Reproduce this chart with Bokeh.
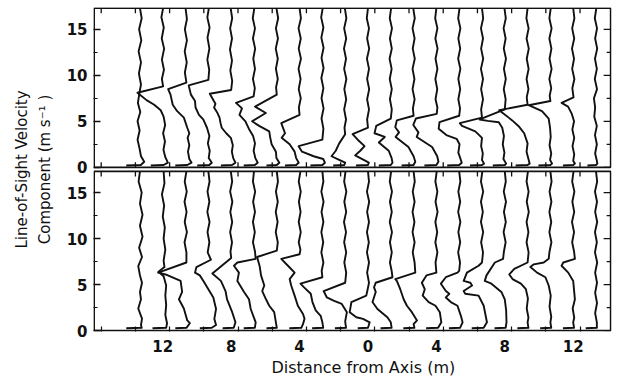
from bokeh.plotting import figure
from bokeh.models import Range1d, FixedTicker, LinearAxis, Title
from bokeh.embed import file_html
from bokeh.resources import INLINE

# ---------------- data ----------------
trace_step_m = 4.0 / 3.0                 # traces every 4/3 m
trace_index = list(range(-10, 11))       # trace k sits at k * 4/3 m
v_max = 17.3                             # top of each panel (m/s)
y_major = [0, 5, 10, 15]
y_minor = [2.5, 7.5, 12.5]
x_tick_values = [-12, -8, -4, 0, 4, 8, 12]
x_tick_labels = ["12", "8", "4", "0", "4", "8", "12"]
x_small_ticks = [-15.6, -13.6, -11.6, -9.6, -7.6, -5.6, -3.6, -1.6, 0.4, 2.4, 4.4, 6.4, 8.4, 10.4, 12.4]

# each trace: [velocity (m/s), horizontal displacement (m) from its trace position]
top_traces = [
    [[17.3,0.00],[16.2,0.10],[15.0,-0.05],[13.8,0.08],[12.6,-0.08],[11.4,0.06],[10.2,-0.06],[9.0,0.06],[8.1,-0.03],[7.0,-0.12],[6.0,0.02],[5.0,-0.14],[4.0,-0.02],[3.0,-0.14],[2.0,-0.02],[1.2,0.06],[0.6,0.25],[0.25,0.05],[0.2,-0.8]],
    [[17.3,0.02],[16.3,-0.08],[15.2,0.06],[14.0,-0.06],[12.9,0.08],[11.7,-0.05],[10.6,0.07],[9.6,-0.05],[8.8,0.02],[8.1,-1.48],[7.3,-0.95],[6.8,-0.5],[6.2,-0.12],[5.5,0.05],[4.6,0.14],[3.7,0.02],[2.8,0.13],[1.9,0.04],[1.1,0.15],[0.5,0.3],[0.25,0.05],[0.2,-0.7]],
    [[17.3,0.0],[16.1,0.08],[15.0,-0.04],[13.8,0.08],[12.6,-0.05],[11.4,0.07],[10.3,-0.04],[9.2,0.05],[8.5,-1.02],[7.9,-0.88],[6.8,-0.75],[6.1,-0.49],[5.4,-0.1],[4.3,0.1],[3.7,0.22],[3.2,0.12],[2.4,0.22],[1.7,0.14],[0.9,0.22],[0.5,0.35],[0.25,0.1],[0.2,-0.6]],
    [[17.3,0.03],[16.3,-0.06],[15.2,0.07],[14.1,-0.05],[12.9,0.06],[11.7,-0.06],[10.6,0.05],[9.5,0.0],[8.9,-1.15],[7.9,-1.02],[7.2,-0.78],[6.5,-0.75],[5.7,-0.55],[5.2,-0.3],[4.3,-0.08],[3.4,0.06],[2.6,-0.03],[1.8,0.08],[1.0,0.02],[0.5,0.2],[0.25,0.05],[0.2,-0.65]],
    [[17.3,-0.03],[16.2,0.06],[15.1,-0.06],[14.0,0.05],[12.8,-0.07],[11.6,0.05],[10.5,-0.05],[9.4,0.06],[8.4,0.0],[8.0,-1.25],[7.4,-1.07],[6.9,-0.92],[6.5,-1.0],[5.9,-0.8],[5.4,-0.68],[4.8,-0.62],[4.3,-0.55],[3.7,-0.29],[3.2,-0.02],[2.4,0.1],[1.7,0.04],[1.0,0.12],[0.5,0.25],[0.25,0.05],[0.2,-0.6]],
    [[17.3,0.02],[16.2,-0.07],[15.1,0.06],[14.0,-0.06],[12.9,0.07],[11.8,-0.04],[10.7,0.06],[9.6,-0.06],[8.6,0.05],[7.7,-0.02],[7.0,-1.05],[6.4,-0.7],[5.7,-0.85],[5.0,-0.5],[4.2,-0.3],[3.4,-0.05],[2.6,0.06],[1.8,-0.02],[1.0,0.08],[0.5,0.22],[0.25,0.05],[0.2,-0.6]],
    [[17.3,-0.02],[16.2,0.08],[15.1,-0.05],[14.0,0.07],[12.9,-0.06],[11.8,0.06],[10.7,-0.05],[9.6,0.06],[8.7,-0.04],[7.9,0.0],[6.6,-1.27],[5.9,-0.64],[5.0,-1.44],[4.5,-1.03],[3.9,-0.44],[3.2,-0.38],[2.5,-0.3],[1.7,-0.05],[1.0,-0.02],[0.5,0.15],[0.25,0.0],[0.2,-0.6]],
    [[17.3,0.0],[16.2,0.08],[15.1,-0.06],[14.0,0.07],[12.9,-0.05],[11.8,0.08],[10.7,-0.06],[9.6,0.06],[8.5,-0.05],[7.5,0.07],[6.5,-0.04],[5.7,0.0],[4.8,-1.07],[4.2,-0.95],[3.7,-0.85],[3.2,-1.05],[2.5,-0.58],[1.7,-0.29],[1.0,-0.2],[0.5,-0.05],[0.25,-0.2],[0.2,-0.85]],
    [[17.3,0.02],[16.3,-0.07],[15.2,0.06],[14.1,-0.06],[13.0,0.07],[11.9,-0.05],[10.8,0.07],[9.7,-0.06],[8.6,0.06],[7.5,-0.05],[6.4,0.07],[5.3,-0.05],[4.2,0.06],[3.0,0.0],[2.3,-1.39],[1.7,-1.19],[1.2,-0.51],[0.9,0.05],[0.5,0.15],[0.25,0.0],[0.2,-0.7]],
    [[17.3,-0.02],[16.2,0.07],[15.1,-0.06],[14.0,0.06],[12.9,-0.07],[11.8,0.05],[10.7,-0.06],[9.6,0.07],[8.5,-0.05],[7.4,0.06],[6.3,-0.06],[5.2,0.05],[4.3,-0.04],[3.6,0.0],[2.6,-0.35],[1.8,-0.55],[1.2,-0.8],[0.8,-0.35],[0.5,0.0],[0.25,-0.05],[0.2,-0.7]],
    [[17.3,0.0],[16.2,-0.07],[15.1,0.06],[14.0,-0.05],[12.9,0.07],[11.8,-0.06],[10.7,0.06],[9.6,-0.05],[8.5,0.07],[7.4,-0.05],[6.3,0.06],[5.2,-0.05],[4.3,0.0],[3.6,-0.9],[3.0,-0.6],[2.3,-0.2],[1.8,-0.45],[1.3,-0.75],[0.8,-0.25],[0.5,0.05],[0.25,0.0],[0.2,-0.7]],
    [[17.3,0.02],[16.2,-0.06],[15.1,0.07],[14.0,-0.05],[12.9,0.06],[11.8,-0.07],[10.7,0.05],[9.6,-0.06],[8.5,0.06],[7.4,-0.05],[6.3,0.06],[5.3,0.0],[4.5,-0.85],[3.7,-0.95],[3.3,-0.35],[2.7,-0.7],[1.8,-0.12],[1.0,0.05],[0.5,0.1],[0.25,0.0],[0.2,-0.7]],
    [[17.3,-0.02],[16.2,0.07],[15.1,-0.06],[14.0,0.06],[12.9,-0.05],[11.8,0.07],[10.7,-0.06],[9.6,0.05],[8.5,-0.06],[7.4,0.06],[6.4,-0.04],[5.6,0.0],[5.1,-0.98],[4.35,-1.07],[3.8,-0.85],[3.3,-1.05],[2.2,-0.3],[1.2,0.0],[0.6,0.1],[0.25,0.0],[0.2,-0.7]],
    [[17.3,0.0],[16.2,-0.07],[15.1,0.06],[14.0,-0.06],[12.9,0.07],[11.8,-0.05],[10.7,0.06],[9.6,-0.06],[8.5,0.05],[7.4,-0.05],[6.5,0.06],[5.8,0.02],[5.3,-1.2],[4.6,-1.35],[3.8,-1.05],[3.3,-1.15],[2.2,-0.25],[1.2,0.05],[0.6,0.12],[0.25,0.0],[0.2,-0.7]],
    [[17.3,0.02],[16.2,-0.06],[15.1,0.07],[14.0,-0.05],[12.9,0.06],[11.8,-0.06],[10.7,0.07],[9.6,-0.05],[8.5,0.06],[7.4,-0.05],[6.4,0.05],[5.6,0.0],[4.9,-1.15],[4.2,-1.2],[3.5,-0.75],[3.1,-0.15],[2.5,0.02],[1.6,-0.05],[0.9,0.08],[0.5,0.15],[0.25,0.0],[0.2,-0.7]],
    [[17.3,0.0],[16.2,0.07],[15.1,-0.06],[14.0,0.06],[12.9,-0.05],[11.8,0.07],[10.7,-0.06],[9.6,0.06],[8.5,-0.05],[7.4,0.06],[6.3,-0.05],[5.4,0.0],[4.8,-1.3],[4.5,-1.17],[3.9,-0.39],[3.2,0.0],[2.3,-0.05],[1.5,0.05],[0.8,0.0],[0.4,0.12],[0.25,0.0],[0.2,-0.7]],
    [[17.3,-0.02],[16.2,0.06],[15.1,-0.07],[14.0,0.05],[12.9,-0.06],[11.8,0.07],[10.7,-0.05],[9.6,0.06],[8.5,-0.06],[7.4,0.05],[6.3,0.0],[5.2,-1.47],[5.05,-1.0],[4.9,-0.35],[4.3,-0.15],[3.4,-0.05],[2.5,-0.12],[1.6,-0.02],[0.9,-0.08],[0.4,0.08],[0.25,0.0],[0.2,-0.7]],
    [[17.3,0.0],[16.2,-0.07],[15.1,0.06],[14.0,-0.06],[12.9,0.07],[11.8,-0.05],[10.7,0.06],[9.6,-0.06],[8.5,0.05],[7.6,-0.05],[6.8,0.0],[6.2,-1.66],[5.1,-0.9],[4.4,-0.49],[3.7,-0.2],[2.6,0.0],[1.7,-0.06],[0.9,0.05],[0.4,0.12],[0.25,0.0],[0.2,-0.7]],
    [[17.3,0.02],[16.2,-0.06],[15.1,0.07],[14.0,-0.06],[12.9,0.06],[11.8,-0.05],[10.7,0.07],[9.6,-0.06],[8.6,0.05],[7.8,-0.04],[7.2,0.0],[6.75,-1.27],[6.1,-0.49],[5.3,-0.1],[4.3,-0.02],[3.3,0.02],[2.4,-0.05],[1.5,0.05],[0.8,-0.02],[0.4,0.1],[0.25,0.0],[0.2,-0.7]],
    [[17.3,0.0],[16.2,0.07],[15.1,-0.06],[14.0,0.06],[12.9,-0.07],[11.8,0.05],[10.7,-0.06],[9.6,0.07],[8.6,-0.05],[7.6,0.02],[7.0,-0.68],[6.6,-0.3],[5.8,-0.08],[5.0,0.05],[4.1,-0.05],[3.2,0.06],[2.3,-0.04],[1.4,0.06],[0.7,0.0],[0.4,0.1],[0.25,0.0],[0.2,-0.6]],
    [[17.3,0.02],[16.2,-0.07],[15.1,0.06],[14.0,-0.05],[12.9,0.07],[11.8,-0.06],[10.7,0.05],[9.6,-0.07],[8.5,0.06],[7.5,-0.12],[6.5,-0.05],[5.5,-0.1],[4.5,0.05],[3.5,-0.06],[2.5,0.05],[1.5,-0.05],[0.8,0.04],[0.4,0.08],[0.25,0.0],[0.2,-0.5]],
]

bottom_traces = [
    [[17.3,0.0],[16.2,-0.08],[15.0,0.1],[13.8,0.0],[12.6,0.15],[11.4,0.0],[10.2,0.15],[9.0,-0.05],[8.0,0.12],[7.0,-0.1],[6.0,0.0],[5.2,0.12],[4.2,0.0],[3.4,0.06],[2.4,-0.1],[1.3,0.12],[0.6,0.06],[0.3,0.1],[0.25,-0.8]],
    [[17.3,0.05],[16.0,0.1],[14.8,-0.05],[13.6,0.08],[12.4,0.0],[11.2,0.12],[10.0,0.05],[8.8,0.15],[7.6,0.05],[6.9,0.1],[6.4,-0.25],[5.9,0.05],[4.9,0.2],[3.8,0.15],[2.8,0.2],[1.7,0.15],[0.8,0.25],[0.3,0.2],[0.25,-0.6]],
    [[17.3,0.05],[16.2,-0.05],[15.1,0.07],[14.0,-0.06],[12.9,0.06],[11.8,-0.05],[10.7,0.08],[9.6,-0.06],[8.5,0.05],[7.4,0.05],[6.3,-1.6],[6.1,-1.17],[5.4,-0.29],[4.2,-0.2],[3.4,-0.39],[2.4,-0.1],[1.1,0.1],[0.8,0.25],[0.3,0.05],[0.25,-0.6]],
    [[17.3,0.0],[16.2,0.07],[15.1,-0.05],[14.0,0.06],[12.9,-0.06],[11.8,0.07],[10.7,-0.05],[9.6,0.06],[8.5,-0.04],[7.7,0.15],[6.9,-0.7],[6.3,-0.78],[6.0,-0.5],[5.4,-0.29],[4.5,0.0],[3.6,0.29],[2.35,0.45],[1.27,0.35],[0.6,0.45],[0.3,0.2],[0.25,-0.5]],
    [[17.3,-0.02],[16.2,0.06],[15.1,-0.06],[14.0,0.07],[12.9,-0.05],[11.8,0.06],[10.7,-0.06],[9.6,0.05],[8.6,-0.04],[7.9,0.0],[6.2,-1.1],[5.4,-0.6],[4.3,-0.33],[3.4,-0.24],[2.0,0.06],[0.9,0.25],[0.3,0.15],[0.25,-0.5]],
    [[17.3,0.0],[16.2,-0.06],[15.1,0.07],[14.0,-0.05],[12.9,0.06],[11.8,-0.06],[10.7,0.05],[9.6,-0.06],[8.6,0.06],[7.8,0.1],[7.4,-0.97],[7.05,-1.17],[6.3,-0.88],[5.4,-0.97],[4.2,-0.58],[3.4,-0.29],[2.35,-0.19],[0.9,0.1],[0.3,0.05],[0.25,-0.6]],
    [[17.3,0.0],[16.2,0.07],[15.1,-0.05],[14.0,0.06],[12.9,-0.06],[11.8,0.05],[10.7,-0.06],[9.6,0.06],[8.7,0.0],[8.0,-1.15],[7.0,-1.0],[6.0,-0.92],[4.9,-0.73],[4.3,-0.85],[3.4,-0.63],[2.7,-0.44],[2.0,-0.15],[0.9,-0.05],[0.3,0.0],[0.25,-0.6]],
    [[17.3,0.05],[16.2,-0.05],[15.1,0.07],[14.0,-0.04],[12.9,0.06],[11.8,-0.05],[10.7,0.07],[9.6,-0.05],[8.8,0.05],[8.3,0.0],[7.8,-1.07],[7.05,-0.68],[6.3,-0.29],[5.6,-0.58],[4.9,-0.49],[3.8,-0.29],[2.7,-0.1],[1.8,0.2],[1.3,0.29],[0.7,0.2],[0.3,0.1],[0.25,-0.6]],
    [[17.3,0.0],[16.2,0.06],[15.1,-0.06],[14.0,0.07],[12.9,-0.05],[11.8,0.06],[10.7,-0.06],[9.6,0.05],[8.5,-0.06],[7.4,0.06],[6.5,-0.04],[5.8,0.0],[5.1,-1.28],[4.7,-1.07],[4.0,-0.68],[3.1,-0.58],[2.2,-0.39],[1.6,-0.1],[0.9,0.0],[0.3,0.05],[0.25,-0.6]],
    [[17.3,0.02],[16.2,-0.06],[15.1,0.07],[14.0,-0.05],[12.9,0.06],[11.8,-0.07],[10.7,0.05],[9.6,-0.06],[8.5,0.06],[7.4,-0.05],[6.3,0.06],[5.2,0.0],[4.3,-1.26],[3.6,-1.07],[3.25,-0.68],[2.9,-0.2],[2.0,0.1],[1.0,0.0],[0.3,0.05],[0.25,-0.6]],
    [[17.3,0.0],[16.2,0.06],[15.1,-0.06],[14.0,0.07],[12.9,-0.05],[11.8,0.06],[10.7,-0.06],[9.6,0.05],[8.5,-0.06],[7.4,0.06],[6.3,-0.05],[5.2,0.06],[4.3,-0.04],[3.8,-0.1],[3.1,-0.97],[2.0,-1.07],[1.45,-0.68],[1.27,-0.29],[0.9,0.1],[0.3,0.0],[0.25,-0.6]],
    [[17.3,0.02],[16.2,-0.06],[15.1,0.07],[14.0,-0.05],[12.9,0.06],[11.8,-0.06],[10.7,0.07],[9.6,-0.05],[8.5,0.06],[7.4,-0.05],[6.5,0.05],[5.8,0.1],[5.2,-0.88],[4.7,-0.98],[4.2,-0.88],[3.1,-1.07],[2.35,-0.78],[1.45,-0.2],[0.9,0.0],[0.3,0.05],[0.25,-0.6]],
    [[17.3,0.0],[16.2,0.07],[15.1,-0.05],[14.0,0.06],[12.9,-0.06],[11.8,0.05],[10.7,-0.06],[9.6,0.06],[8.5,-0.05],[7.4,0.06],[6.3,0.1],[5.6,-1.07],[5.4,-0.98],[4.5,-0.78],[3.4,-0.58],[2.7,-0.39],[2.0,-0.1],[1.1,0.2],[0.7,0.0],[0.3,0.05],[0.25,-0.6]],
    [[17.3,0.02],[16.2,-0.06],[15.1,0.06],[14.0,-0.05],[12.9,0.07],[11.8,-0.06],[10.7,0.05],[9.6,-0.06],[8.5,0.06],[7.4,-0.05],[6.3,0.0],[6.0,-0.58],[5.2,-0.85],[4.5,-0.68],[3.8,-0.8],[3.1,-0.45],[2.7,-0.05],[2.0,0.2],[0.9,0.29],[0.3,0.1],[0.25,-0.6]],
    [[17.3,0.0],[16.2,0.07],[15.1,-0.05],[14.0,0.06],[12.9,-0.06],[11.8,0.07],[10.7,-0.05],[9.6,0.06],[8.5,-0.06],[7.4,0.05],[6.5,0.0],[6.3,-0.1],[5.8,-0.78],[5.1,-1.07],[4.3,-0.78],[4.0,-0.58],[3.6,-0.78],[3.1,-0.49],[2.7,-0.1],[1.6,0.1],[0.9,0.2],[0.3,0.05],[0.25,-0.6]],
    [[17.3,0.02],[16.2,-0.06],[15.1,0.07],[14.0,-0.06],[12.9,0.05],[11.8,-0.06],[10.7,0.07],[9.6,-0.05],[8.5,0.06],[7.4,0.0],[7.05,-0.2],[6.3,-0.88],[5.4,-1.07],[5.2,-0.68],[4.9,-0.58],[4.3,-1.07],[4.0,-0.98],[3.8,-0.2],[2.7,0.1],[0.9,0.29],[0.3,0.1],[0.25,-0.6]],
    [[17.3,0.0],[16.2,0.06],[15.1,-0.06],[14.0,0.07],[12.9,-0.05],[11.8,0.06],[10.7,-0.07],[9.6,0.05],[8.6,-0.05],[7.8,-0.1],[7.4,-0.58],[6.0,-1.07],[5.4,-1.17],[5.1,-0.78],[4.2,-0.2],[3.4,0.0],[2.2,0.08],[0.9,0.1],[0.3,0.05],[0.25,-0.6]],
    [[17.3,0.02],[16.2,-0.06],[15.1,0.06],[14.0,-0.05],[12.9,0.07],[11.8,-0.06],[10.7,0.05],[9.6,-0.06],[8.5,0.06],[7.4,0.0],[6.7,-0.78],[6.1,-1.07],[5.6,-0.88],[5.1,-0.39],[4.5,-0.1],[3.5,0.02],[2.4,-0.05],[1.4,0.05],[0.9,0.0],[0.3,0.05],[0.25,-0.6]],
    [[17.3,0.0],[16.2,0.07],[15.1,-0.05],[14.0,0.06],[12.9,-0.06],[11.8,0.05],[10.7,-0.06],[9.6,0.06],[8.6,-0.05],[7.8,-0.1],[7.4,-0.39],[7.2,-0.97],[6.9,-1.17],[6.3,-0.78],[5.8,-0.29],[4.9,-0.1],[3.8,0.02],[2.6,-0.05],[1.5,0.05],[0.9,0.0],[0.3,0.05],[0.25,-0.6]],
    [[17.3,0.02],[16.2,-0.06],[15.1,0.07],[14.0,-0.05],[12.9,0.06],[11.8,-0.07],[10.7,0.05],[9.6,-0.06],[8.6,0.05],[7.8,0.1],[7.4,-0.58],[7.05,-0.68],[6.3,-0.29],[5.4,0.0],[3.4,0.1],[2.4,-0.03],[1.4,0.06],[0.9,0.0],[0.3,0.05],[0.25,-0.6]],
    [[17.3,0.0],[16.2,0.07],[15.1,-0.06],[14.0,0.06],[12.9,-0.05],[11.8,0.07],[10.7,-0.06],[9.6,0.05],[8.5,-0.06],[7.4,0.07],[6.3,-0.05],[5.2,0.06],[4.1,-0.05],[3.0,0.06],[1.9,-0.05],[0.9,0.05],[0.3,0.05],[0.25,-0.6]],
]

# ---------------- layout / styling ----------------
TOP_OFFSET = 17.75          # top panel drawn above the bottom one in a single frame
INK = "#111111"
X_LO, X_HI = -16.05, 14.24
Y_LO, Y_HI = -0.1, 35.12
FRAME_W, FRAME_H = 518, 324
PX_PER_X = FRAME_W / (X_HI - X_LO)
PX_PER_Y = FRAME_H / (Y_HI - Y_LO)

p = figure(width=616, height=382, x_range=Range1d(X_LO, X_HI), y_range=Range1d(Y_LO, Y_HI),
           output_backend="svg", toolbar_location=None,
           min_border_left=93, min_border_right=5, min_border_top=7, min_border_bottom=51)
p.outline_line_color = None
p.xgrid.visible = False
p.ygrid.visible = False
p.background_fill_color = "white"

# traces
xs, ys = [], []
for offset, traces in ((TOP_OFFSET, top_traces), (0.0, bottom_traces)):
    for k, tr in zip(trace_index, traces):
        xs.append([k * trace_step_m + d for v, d in tr])
        ys.append([v + offset for v, d in tr])
p.multi_line(xs, ys, line_color=INK, line_width=1.9, line_join="round")

# panel frames
fx0, fx1 = X_LO + 0.04, X_HI - 0.05
p.quad(left=[fx0, fx0], right=[fx1, fx1], bottom=[0, TOP_OFFSET], top=[v_max, TOP_OFFSET + v_max],
       fill_color=None, line_color=INK, line_width=1.7)

# small x ticks on the inner panel edges
tick_len_y = 5 / PX_PER_Y
sx0, sy0, sx1, sy1 = [], [], [], []
for ey, sgn in [(TOP_OFFSET, 1), (TOP_OFFSET + v_max, -1), (v_max, -1)]:
    for t in x_small_ticks:
        sx0.append(t); sx1.append(t); sy0.append(ey); sy1.append(ey + sgn * tick_len_y)
# right-hand y ticks (major 7 px, minor 4 px)
for offset in (0.0, TOP_OFFSET):
    for t in y_major:
        sx0.append(fx1); sx1.append(fx1 - 7 / PX_PER_X); sy0.append(t + offset); sy1.append(t + offset)
    for t in y_minor:
        sx0.append(fx1); sx1.append(fx1 - 4 / PX_PER_X); sy0.append(t + offset); sy1.append(t + offset)
p.segment(sx0, sy0, sx1, sy1, line_color=INK, line_width=1.3)

# left y axis
y_ticks = y_major + [TOP_OFFSET + t for t in y_major]
y_minors = y_minor + [TOP_OFFSET + t for t in y_minor]
ya = p.yaxis[0]
ya.ticker = FixedTicker(ticks=y_ticks, minor_ticks=y_minors)
ya.major_label_overrides = {TOP_OFFSET + t: str(t) for t in y_major}
ya.axis_line_color = None
ya.major_tick_in = 7
ya.major_tick_out = 0
ya.minor_tick_in = 4
ya.minor_tick_out = 0
ya.major_tick_line_color = INK
ya.minor_tick_line_color = INK
ya.major_tick_line_width = 1.3
ya.minor_tick_line_width = 1.1
ya.major_label_text_font = "DejaVu Sans"
ya.major_label_text_font_style = "bold"
ya.major_label_text_font_size = "15px"
ya.major_label_text_color = INK
ya.major_label_standoff = 6
ya.axis_label = "Component (m s\u207b\u00b9 )"
ya.axis_label_text_font = "DejaVu Sans"
ya.axis_label_text_font_style = "normal"
ya.axis_label_text_font_size = "15px"
ya.axis_label_text_color = INK
ya.axis_label_standoff = 10

# outer left axis only carries the first title line
ya2 = LinearAxis(ticker=FixedTicker(ticks=[]), axis_label="Line-of-Sight Velocity")
ya2.axis_line_color = None
ya2.major_tick_in = 0
ya2.major_tick_out = 0
ya2.minor_tick_in = 0
ya2.minor_tick_out = 0
ya2.major_label_standoff = 0
ya2.axis_label_standoff = 2
ya2.axis_label_text_font = "DejaVu Sans"
ya2.axis_label_text_font_style = "normal"
ya2.axis_label_text_font_size = "15px"
ya2.axis_label_text_color = INK
p.add_layout(ya2, "left")

# x axis
xa = p.xaxis[0]
xa.ticker = FixedTicker(ticks=x_tick_values, minor_ticks=x_small_ticks)
xa.major_label_overrides = dict(zip(x_tick_values, x_tick_labels))
xa.axis_line_color = None
xa.major_tick_in = 0
xa.major_tick_out = 0
xa.minor_tick_in = 5
xa.minor_tick_out = 0
xa.minor_tick_line_color = INK
xa.minor_tick_line_width = 1.2
xa.major_label_text_font = "DejaVu Sans"
xa.major_label_text_font_style = "bold"
xa.major_label_text_font_size = "15px"
xa.major_label_text_color = INK
xa.major_label_standoff = 8

# x title, centred under the 0 m label like the original
xtitle = Title(text="Distance from Axis (m)", align="left", offset=178,
               text_font="DejaVu Sans", text_font_style="normal", text_font_size="16px",
               text_color=INK, standoff=2)
p.add_layout(xtitle, "below")

open("out.html", "w").write(file_html(p, INLINE))
